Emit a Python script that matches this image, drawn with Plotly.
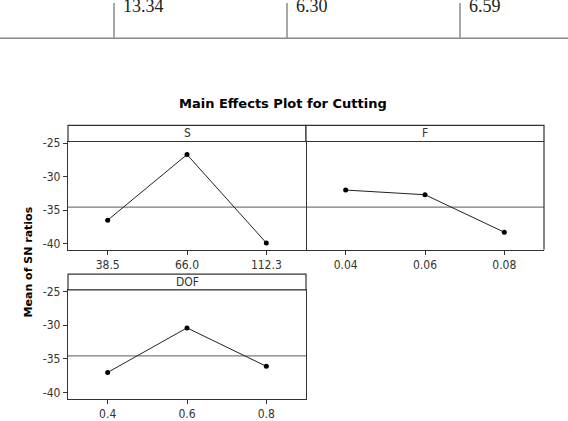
import plotly.graph_objects as go

W, H = 568, 421

# ---- data ----
table_values = ["13.34", "6.30", "6.59"]
s_levels = ["38.5", "66.0", "112.3"]
s_means = [-36.5, -26.7, -39.9]
f_levels = ["0.04", "0.06", "0.08"]
f_means = [-32.0, -32.7, -38.3]
dof_levels = ["0.4", "0.6", "0.8"]
dof_means = [-37.0, -30.4, -36.1]
overall_mean = -34.55
y_ticks = [-25, -30, -35, -40]
y_ticktext = ["-25", "-30", "-35", "-40"]

panels = [
    ("S", s_levels, s_means, "x", "y"),
    ("F", f_levels, f_means, "x2", "y2"),
    ("DOF", dof_levels, dof_means, "x3", "y3"),
]

def px(x):
    return x / W

def py(y):
    return 1 - y / H

fig = go.Figure()
for name, lv, mv, xa, ya in panels:
    fig.add_trace(go.Scatter(
        x=lv, y=mv, xaxis=xa, yaxis=ya, mode="lines+markers",
        line=dict(color="#222222", width=1),
        marker=dict(color="black", size=5),
        showlegend=False, hoverinfo="skip"))

font_ax = "DejaVu Sans"
font_tk = "DejaVu Sans Condensed, Open Sans, DejaVu Sans"
frame = "#333333"
yr = [-40.9, -24.75]
common_y = dict(range=yr, tickvals=y_ticks, ticktext=y_ticktext, showline=True, mirror=True,
                linecolor=frame, linewidth=1.2, showgrid=False, zeroline=False,
                ticks="outside", ticklen=4, tickcolor=frame,
                tickfont=dict(family=font_tk, size=12, color="#333333"))
common_x = dict(type="category", range=[-0.5, 2.5], showline=True, mirror=True,
                linecolor=frame, linewidth=1.2, showgrid=False, zeroline=False,
                ticks="outside", ticklen=4, tickcolor=frame,
                tickfont=dict(family=font_tk, size=12, color="#333333"))

top = (139.5, 250)
bot = (291, 402.3)
xS = (68, 306)
xF = (306, 544)

fig.update_layout(
    width=W, height=H, autosize=False,
    margin=dict(l=0, r=0, t=0, b=0),
    paper_bgcolor="white", plot_bgcolor="white",
    xaxis=dict(common_x, domain=[px(xS[0]), px(xS[1])], anchor="y"),
    yaxis=dict(common_y, domain=[py(top[1]), py(top[0])], anchor="x"),
    xaxis2=dict(common_x, domain=[px(xF[0]), px(xF[1])], anchor="y2"),
    yaxis2=dict(common_y, domain=[py(top[1]), py(top[0])], anchor="x2",
                showticklabels=False, ticks="", showline=False),
    xaxis3=dict(common_x, domain=[px(xS[0]), px(xS[1])], anchor="y3"),
    yaxis3=dict(common_y, domain=[py(bot[1]), py(bot[0])], anchor="x3"),
)

shapes = []
annotations = []
# right border of F panel
shapes.append(dict(type="line", xref="x2 domain", yref="y2 domain", x0=1, x1=1,
                   y0=0, y1=1, line=dict(color=frame, width=1.2)))
# mean reference lines
for xa, ya in [("x", "y"), ("x2", "y2"), ("x3", "y3")]:
    shapes.append(dict(type="line", xref=f"{xa} domain", yref=ya, x0=0, x1=1,
                       y0=overall_mean, y1=overall_mean,
                       line=dict(color="#7a7a7a", width=1.2), layer="below"))

# strips
strips = [("S", xS, 123, top[0]), ("F", xF, 123, top[0]), ("DOF", xS, 275, bot[0])]
for label, (x0, x1), y0, y1 in strips:
    shapes.append(dict(type="rect", xref="paper", yref="paper",
                       x0=px(x0), x1=px(x1), y0=py(y1), y1=py(y0),
                       line=dict(color=frame, width=1.2), fillcolor="white"))
    annotations.append(dict(text=label, xref="paper", yref="paper",
                            x=px((x0 + x1) / 2), y=py((y0 + y1) / 2),
                            xanchor="center", yanchor="middle", showarrow=False,
                            font=dict(family=font_tk, size=12, color="#333333")))

# table fragment at top
shapes.append(dict(type="line", xref="paper", yref="paper", x0=0, x1=1,
                   y0=py(34), y1=py(34), line=dict(color="#8a8a8a", width=1.5)))
cell_x = [114, 287, 460]
for cx in cell_x:
    shapes.append(dict(type="line", xref="paper", yref="paper", x0=px(cx), x1=px(cx),
                       y0=py(34), y1=py(-2), line=dict(color="#8a8a8a", width=1.5)))
for cx, tv in zip(cell_x, table_values):
    annotations.append(dict(text=tv, xref="paper", yref="paper",
                            x=px(cx + 7), y=py(1), xanchor="left", yanchor="middle",
                            showarrow=False,
                            font=dict(family="Liberation Serif", size=18, color="#222222")))

# title
annotations.append(dict(text="<b>Main Effects Plot for Cutting</b>", xref="paper", yref="paper",
                        x=px(283), y=py(101), xanchor="center", yanchor="middle",
                        showarrow=False,
                        font=dict(family=font_ax, size=13, color="black")))
# y title
annotations.append(dict(text="<b>Mean of SN ratios</b>", xref="paper", yref="paper",
                        x=px(28), y=py(262), xanchor="center", yanchor="middle",
                        textangle=-90, showarrow=False,
                        font=dict(family=font_ax, size=11, color="black")))

fig.update_layout(shapes=shapes, annotations=annotations)
fig.write_html("out.html")
